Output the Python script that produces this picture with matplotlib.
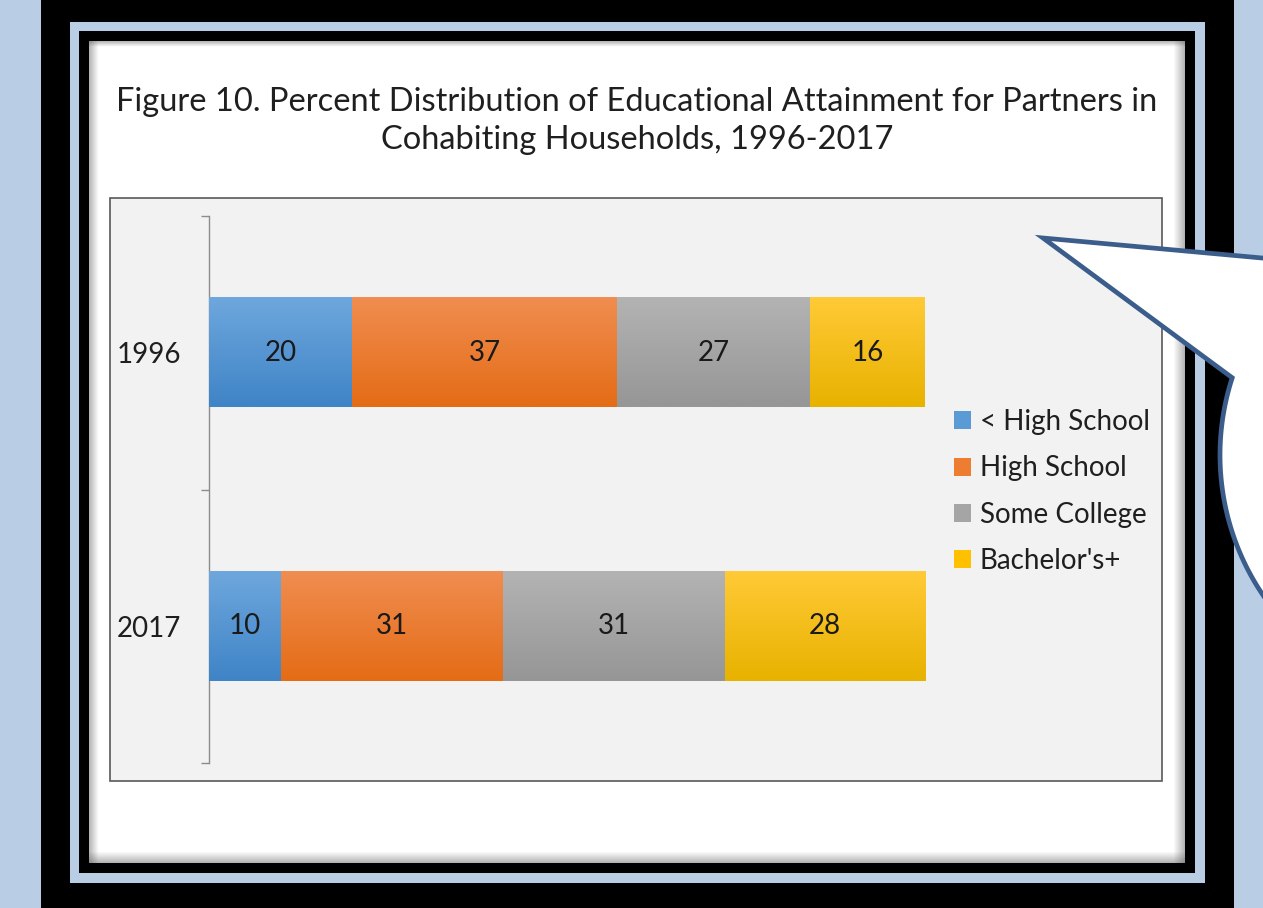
import numpy as np
import matplotlib.pyplot as plt
from matplotlib.patches import Rectangle, Polygon
from matplotlib.colors import to_rgb

plt.rcParams['font.family'] = ['Lato', 'DejaVu Sans']

W, H = 1263, 908

years = ["1996", "2017"]
levels = ["< High School", "High School", "Some College", "Bachelor's+"]
below_hs = [20, 10]
high_school = [37, 31]
some_college = [27, 31]
bachelors = [16, 28]
series = [below_hs, high_school, some_college, bachelors]

base_colors = ["#5b9bd5", "#ed7d31", "#a5a5a5", "#ffc000"]
grad_top = ["#6ea7dd", "#f08d50", "#b3b3b3", "#ffca36"]
grad_bottom = ["#3f84c7", "#e46c16", "#969696", "#e8b200"]

fig = plt.figure(figsize=(W / 100, H / 100), dpi=100)
fig.patch.set_facecolor("#b9cde5")

# background layer in pixel units: framed border, white page, plot panel
bg = fig.add_axes([0, 0, 1, 1], zorder=0)
bg.set_xlim(0, W)
bg.set_ylim(H, 0)
bg.axis("off")

def box(x0, y0, x1, y1, **kw):
    bg.add_patch(Rectangle((x0, y0), x1 - x0, y1 - y0, **kw))

box(41, 0, 1234, 908, facecolor="black", lw=0)
box(70, 22, 1205, 883, facecolor="#b9cde5", lw=0)
box(79, 31, 1195, 873, facecolor="black", lw=0)
box(89, 41, 1185, 863, facecolor="white", lw=0)

# soft inner shadow along the page edges
def edge_shade(x0, x1, y0, y1, horizontal, flip):
    n = 12
    a = np.linspace(0.45, 0.0, n)
    if flip:
        a = a[::-1]
    rgba = np.zeros((1, n, 4)) if horizontal else np.zeros((n, 1, 4))
    rgba[..., :3] = 0.35
    rgba[..., 3] = a.reshape(rgba.shape[:2])
    bg.imshow(rgba, extent=(x0, x1, y1, y0), aspect="auto", interpolation="bilinear", zorder=1)

edge_shade(89, 99, 41, 863, True, False)
edge_shade(1173, 1185, 41, 863, True, True)
edge_shade(89, 1185, 41, 47, False, False)
edge_shade(89, 1185, 851, 863, False, True)
bg.set_xlim(0, W)
bg.set_ylim(H, 0)

box(110, 198, 1162, 781, facecolor="#f2f2f2", edgecolor="#595959", lw=1.2, zorder=2)

bg.text(637, 121, "Figure 10. Percent Distribution of Educational Attainment for Partners in\n"
        "Cohabiting Households, 1996-2017",
        ha="center", va="center", fontsize=23.5, color="#1f1f1f", linespacing=1.36, zorder=3)

# stacked horizontal bars
ax = fig.add_axes([209 / W, 1 - 763 / H, (925 - 209) / W, (763 - 216) / H], zorder=2)
ax.set_facecolor("none")
ypos = np.arange(len(years))
left = np.zeros(len(years))
containers = []
for vals, lab, c, ct, cb in zip(series, levels, base_colors, grad_top, grad_bottom):
    bars = ax.barh(ypos, vals, left=left, height=0.4, color=c, label=lab, zorder=2)
    containers.append(bars)
    grad = np.linspace(0, 1, 64)[:, None, None]
    img = (1 - grad) * np.array(to_rgb(ct)) + grad * np.array(to_rgb(cb))
    for p in bars.patches:
        x0, y0, x1, y1 = p.get_bbox().extents
        ax.imshow(img, extent=(x0, x1, y1, y0), origin="upper", aspect="auto",
                  interpolation="bilinear", zorder=3)
    ax.bar_label(bars, labels=[str(v) for v in vals], label_type="center",
                 fontsize=20, color="#1a1a1a", zorder=4)
    left += np.array(vals)

for t in ax.texts:
    t.set_zorder(5)

ax.set_xlim(0, 100)
ax.set_ylim(1.5, -0.5)
ax.set_aspect("auto")
for s in ["top", "right", "bottom"]:
    ax.spines[s].set_visible(False)
ax.spines["left"].set_color("#8c8c8c")
ax.spines["left"].set_linewidth(1.0)
ax.set_xticks([])
ax.set_yticks([-0.5, 0.5, 1.5])
ax.set_yticklabels([])
ax.tick_params(axis="y", which="major", length=6, width=1.0, color="#8c8c8c")
ax.set_yticks(ypos, minor=True)
ax.set_yticklabels(years, minor=True, fontsize=20, color="#1f1f1f")
ax.tick_params(axis="y", which="minor", length=0, pad=20)

fig.legend(handles=containers, labels=levels, loc="upper left",
           bbox_to_anchor=(954 / W, 1 - 409 / H), bbox_transform=fig.transFigure,
           frameon=False, fontsize=20, labelcolor="#1f1f1f",
           handlelength=0.62, handleheight=0.62, handletextpad=0.3,
           labelspacing=0.73, borderpad=0, borderaxespad=0)

# speech-bubble callout drawn over the right side of the page
ov = fig.add_axes([0, 0, 1, 1], zorder=10)
ov.set_xlim(0, W)
ov.set_ylim(H, 0)
ov.axis("off")
cx, cy, r = 1470, 455, 250
th = np.radians(np.linspace(125, 198, 60))
arc = np.column_stack([cx + r * np.cos(th), cy + r * np.sin(th)])
pts = np.vstack([[[1043, 238], [1700, 298], [1700, 700]], arc])
ov.add_patch(Polygon(pts, closed=True, facecolor="white", edgecolor="#3b5d8b",
                     lw=3.4, joinstyle="miter"))

fig.savefig("out.png", dpi=100)
